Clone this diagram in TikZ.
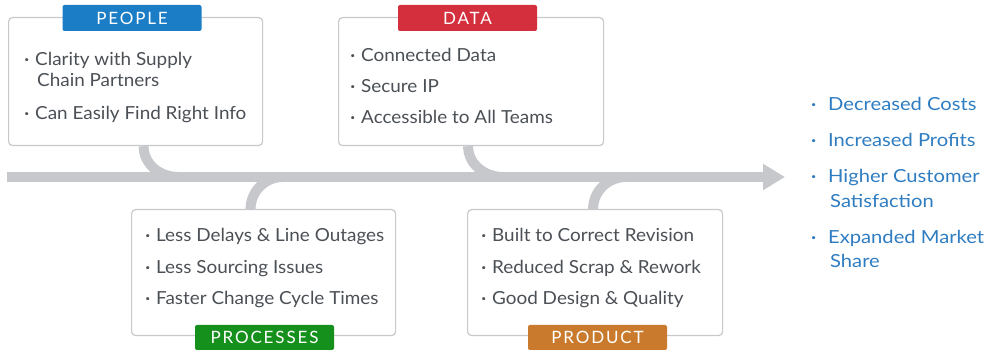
\documentclass[tikz,border=0pt]{standalone}
\usepackage{fontspec}
\setmainfont{Lato}
\usetikzlibrary{positioning,arrows.meta,backgrounds}

\definecolor{spinegray}{HTML}{C7C8CC}
\definecolor{boxgray}{HTML}{C8C9CD}
\definecolor{itemtext}{HTML}{4B5056}
\definecolor{peopleblue}{HTML}{1B7DC5}
\definecolor{datared}{HTML}{D32F3D}
\definecolor{procgreen}{HTML}{16901C}
\definecolor{prodorange}{HTML}{C97A2C}
\definecolor{goalblue}{HTML}{2E7CC1}

\newcommand{\bul}{\llap{\raisebox{.35ex}{\fontsize{8}{8}\selectfont\textbullet}\hspace{6pt}}}
\newcommand{\gbul}{\llap{\raisebox{.35ex}{\fontsize{8}{8}\selectfont\textbullet}\hspace{12pt}}}

\begin{document}
\begin{tikzpicture}[
x=1pt,y=1pt,
spine/.style={
  draw=spinegray,
  line width=10pt
},
branch/.style={
  draw=spinegray,
  line width=10pt
},
box/.style={
  draw=boxgray,
  fill=white,
  line width=1.2pt,
  rounded corners=4pt,
  anchor=north west,
  inner sep=0pt
},
tag/.style={
  rounded corners=2pt,
  text=white,
  inner sep=0pt,
  minimum width=139pt,
  minimum height=26pt,
  font=\fontsize{17}{17}\selectfont\addfontfeature{LetterSpace=11}
},
item/.style={
  anchor=base west,
  inner sep=0pt,
  text=itemtext,
  font=\fontsize{18}{21}\selectfont\addfontfeature{FakeStretch=1.05}
},
goal/.style={
  item,
  text=goalblue,
  font=\fontsize{18}{21}\selectfont\addfontfeature{FakeStretch=1.12}
}
]
\useasboundingbox (0,0) rectangle (985,-352);

% boxes
\node[box,minimum width=254pt,minimum height=128pt] (people) at (8,-17) {};
\node[box,minimum width=265pt,minimum height=128pt] (data) at (338,-17) {};
\node[box,minimum width=264pt,minimum height=126pt] (proc) at (131,-209) {};
\node[box,minimum width=255pt,minimum height=126pt] (prod) at (467,-209) {};

% spine and branches behind the boxes
\coordinate (tail) at (7,-177);
\coordinate (head) at (785,-177);
\coordinate (j1) at (178,-177);
\coordinate (j2) at (503,-177);
\coordinate (j3) at (283,-177);
\coordinate (j4) at (626,-177);
\begin{scope}[on background layer]
\draw[spine,-{Triangle[length=22pt,width=25pt]}] (tail) -- (head);
\draw[branch] ([xshift=8pt]people.south) to[out=-90,in=180] (j1);
\draw[branch] ([xshift=-3pt]data.south) to[out=-90,in=180] (j2);
\draw[branch] ([xshift=-13pt]proc.north) to[out=90,in=180] (j3);
\draw[branch] ([xshift=-2pt]prod.north) to[out=90,in=180] (j4);
\end{scope}

% tags
\node[tag,fill=peopleblue] (peopletag) at (132,-18) {PEOPLE};
\node[tag,fill=datared] (datatag) at (467.5,-18) {DATA};
\node[tag,fill=procgreen,minimum height=25pt] (proctag) at (264.5,-337.5) {PROCESSES};
\node[tag,fill=prodorange,minimum height=25pt] (prodtag) at (597.5,-337.5) {PRODUCT};

% people
\node[item] (p1) at (35,-66) {\bul Clarity with Supply};
\node[item] (p1b) at (37,-87) {Chain Partners};
\node[item] (p2) at (35,-120) {\bul Can Easily Find Right Info};

% data
\foreach \t [count=\i] in {Connected Data,Secure IP,Accessible to All Teams}
  \node[item] (d\i) at (361,-62-31*\i+31) {\bul \t};

% processes
\foreach \t [count=\i] in {Less Delays \& Line Outages,Less Sourcing Issues,Faster Change Cycle Times}
  \node[item] (c\i) at (156,-242-31.5*\i+31.5) {\bul \t};

% product
\foreach \t [count=\i] in {Built to Correct Revision,Reduced Scrap \& Rework,Good Design \& Quality}
  \node[item] (r\i) at (492,-242-31.5*\i+31.5) {\bul \t};

% outcomes
\node[goal] (g1) at (828,-111) {\gbul Decreased Costs};
\node[goal] (g2) at (828,-147) {\gbul Increased Profits};
\node[goal] (g3) at (828,-183) {\gbul Higher Customer};
\node[goal] (g3b) at (830,-208) {Satisfaction};
\node[goal] (g4) at (828,-244) {\gbul Expanded Market};
\node[goal] (g4b) at (830,-268) {Share};
\end{tikzpicture}
\end{document}
